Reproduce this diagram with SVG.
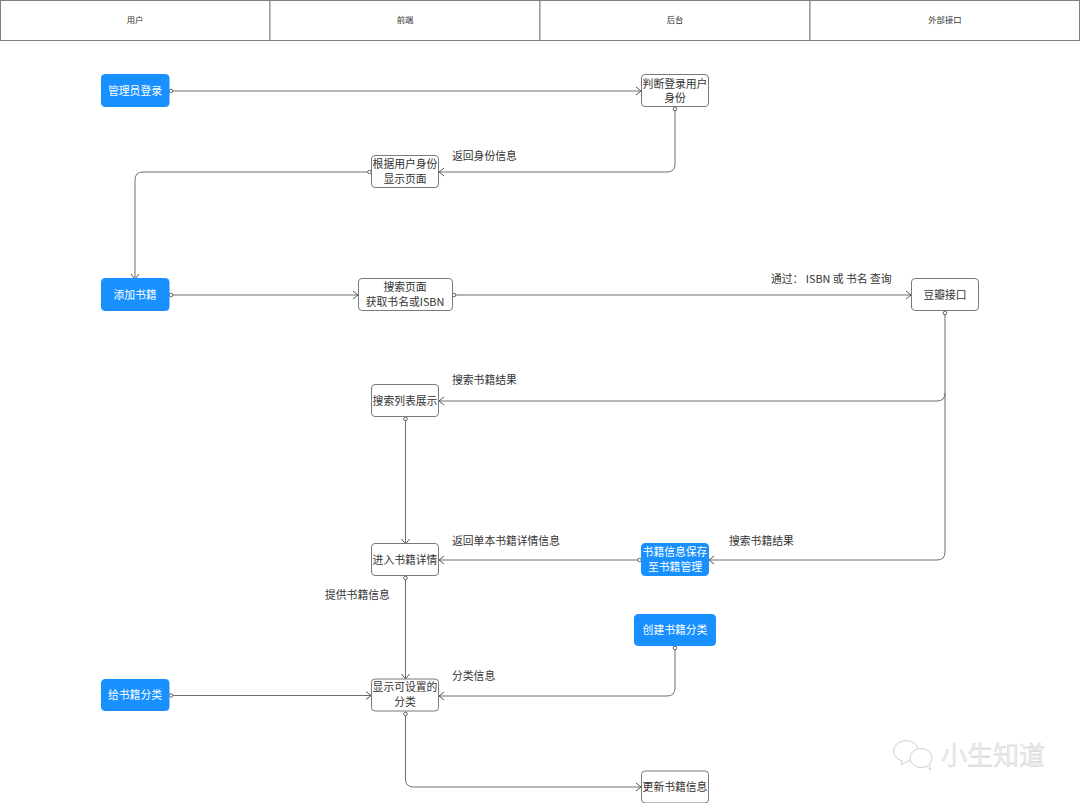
<svg xmlns="http://www.w3.org/2000/svg" width="1080" height="803" viewBox="0 0 1080 803">
<style>
text{font-family:"Noto Sans CJK SC","Liberation Sans",sans-serif;font-size:10.8px;fill:#333;text-anchor:middle}
.lane rect{fill:#fff;stroke:#7f7f7f;stroke-width:1}
.lane text{font-size:8.4px}
.w rect{fill:#fff;stroke:#7a7a7a;stroke-width:1}
.b rect{fill:#1890ff;stroke:#1890ff;stroke-width:1}
.b text{fill:#fff}
.lbl{text-anchor:start}
#connectors path{fill:none;stroke:#6e6e6e;stroke-width:1;marker-start:url(#dot);marker-end:url(#arr)}
#connectors path.nodot{marker-start:none}
#watermark text{font-size:26px;fill:#ececec;stroke:#c8c8c8;stroke-width:.3;text-anchor:start}
#watermark path,#watermark ellipse{fill:#fff;stroke:#cfcfcf;stroke-width:1}
</style>
<defs>
<marker id="dot" markerUnits="userSpaceOnUse" markerWidth="6" markerHeight="6" refX="3" refY="3" orient="auto"><circle cx="3" cy="3" r="1.8" fill="#fff" stroke="#555" stroke-width=".9"/></marker>
<marker id="arr" markerUnits="userSpaceOnUse" markerWidth="8" markerHeight="10" refX="7" refY="5" orient="auto"><path d="M2 1L7 5L2 9" fill="none" stroke="#555" stroke-width="1"/></marker>
</defs>
<rect width="1080" height="803" fill="#fff"/>
<g id="lanes" class="lane">
<rect x="0.5" y="0.5" width="269.500" height="40"/><rect x="270" y="0.5" width="270" height="40"/><rect x="540" y="0.5" width="270" height="40"/><rect x="810" y="0.5" width="269.500" height="40"/>
<text x="135" y="23">用户</text><text x="405" y="23">前端</text><text x="675" y="23">后台</text><text x="945" y="23">外部接口</text>
</g>
<g id="connectors">
<path d="M171 91H641"/>
<path d="M675 109V164Q675 172 667 172H439"/>
<path d="M369.500 172H143Q135 172 135 180V279"/>
<path d="M171 295H358"/>
<path d="M454 295H911"/>
<path d="M945 313V393Q945 401 937 401H439"/>
<path class="nodot" d="M945 393V552Q945 560 937 560H709"/>
<path d="M405.500 419V544"/>
<path d="M639.500 560H439"/>
<path d="M405.500 578V679"/>
<path d="M171 695.500H371"/>
<path d="M675 648V688Q675 696 667 696H439"/>
<path d="M405.500 714V779Q405.500 787 413.500 787H641"/>
</g>
<g id="n1" class="b"><rect x="101.500" y="74.500" width="67.500" height="32" rx="3.500"/><text x="135" y="95">管理员登录</text></g>
<g id="n2" class="w"><rect x="641.500" y="74.500" width="67" height="32" rx="3.500"/><text x="675" y="87.500">判断登录用户</text><text x="675" y="102">身份</text></g>
<g id="n3" class="w"><rect x="371.500" y="155.500" width="67" height="32" rx="3.500"/><text x="405" y="168">根据用户身份</text><text x="405" y="183">显示页面</text></g>
<g id="n4" class="b"><rect x="101.500" y="278.500" width="67.500" height="32" rx="3.500"/><text x="135" y="299">添加书籍</text></g>
<g id="n5" class="w"><rect x="358.500" y="278.500" width="94" height="32" rx="3.500"/><text x="405" y="291">搜索页面</text><text x="405" y="306">获取书名或ISBN</text></g>
<g id="n6" class="w"><rect x="911.500" y="278.500" width="67" height="32" rx="3.500"/><text x="945" y="299">豆瓣接口</text></g>
<g id="n7" class="w"><rect x="371.500" y="384.500" width="67" height="32" rx="3.500"/><text x="405" y="405">搜索列表展示</text></g>
<g id="n8" class="w"><rect x="371.500" y="543.500" width="67" height="32" rx="3.500"/><text x="405" y="564">进入书籍详情</text></g>
<g id="n9" class="b"><rect x="641.500" y="543.500" width="67" height="32" rx="3.500"/><text x="675" y="556">书籍信息保存</text><text x="675" y="571">至书籍管理</text></g>
<g id="n10" class="b"><rect x="634.500" y="614.500" width="81" height="31" rx="3.500"/><text x="675" y="634">创建书籍分类</text></g>
<g id="n11" class="b"><rect x="101.500" y="679.500" width="67.500" height="31" rx="3.500"/><text x="135" y="699">给书籍分类</text></g>
<g id="n12" class="w"><rect x="371.500" y="679" width="67" height="32" rx="3.500"/><text x="405" y="691">显示可设置的</text><text x="405" y="706">分类</text></g>
<g id="n13" class="w"><rect x="641.500" y="771" width="67" height="32" rx="3.500"/><text x="675" y="791">更新书籍信息</text></g>
<g id="labels">
<text class="lbl" x="452" y="160">返回身份信息</text>
<text class="lbl" x="771" y="283">通过： ISBN 或 书名 查询</text>
<text class="lbl" x="452" y="384">搜索书籍结果</text>
<text class="lbl" x="452" y="545">返回单本书籍详情信息</text>
<text class="lbl" x="729" y="545">搜索书籍结果</text>
<text class="lbl" x="325" y="599">提供书籍信息</text>
<text class="lbl" x="452" y="680">分类信息</text>
</g>
<g id="watermark">
<ellipse cx="906" cy="751" rx="12.500" ry="10.500"/>
<path d="M902 760L901 765L908 761"/>
<ellipse cx="921" cy="758" rx="11" ry="9.500"/>
<path d="M926 766L931 770L929 764"/>
<text x="941" y="765">小生知道</text>
</g>
</svg>
